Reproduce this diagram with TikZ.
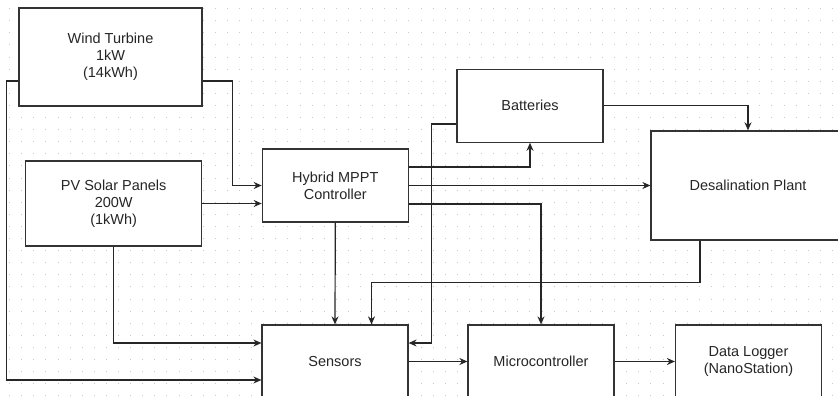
\documentclass[tikz,border=0pt]{standalone}
\usepackage{fontspec}
\setmainfont{Liberation Sans}
\usetikzlibrary{arrows.meta,calc,positioning}

\begin{document}
\begin{tikzpicture}[
    x=1pt, y=-1pt,
    font=\fontsize{14.5}{17}\selectfont,
    block/.style    = {draw=black!80, fill=white, line width=1.2pt, align=center,
                       inner sep=0pt, text=black!85},
    unit/.style     = {block, minimum width=146pt, minimum height=73pt},
    link/.style     = {-{Stealth[length=8pt,width=7pt]}, line width=1.2pt, black!85},
    griddots/.style = {draw=black!22, line width=1pt, dash pattern=on 1pt off 11.1pt}
  ]

% =========================================================
% Page frame and dotted grid
% =========================================================
\clip (0,0) rectangle (838,396);
\fill[white] (0,0) rectangle (838,396);
\foreach \gy in {0,...,32}
  \draw[griddots] (9.17,{8.67+12.1*\gy}) -- (838,{8.67+12.1*\gy});

% =========================================================
% Blocks
% =========================================================
\node[block, minimum width=183pt, minimum height=98pt] (wind) at (110.5,57)
  {Wind Turbine\\1kW\\(14kWh)};
\node[block, minimum width=176pt, minimum height=85pt] (pv) at (113.7,203.5)
  {PV Solar Panels\\200W\\(1kWh)};
\node[unit] (mppt) at (335.3,185.5) {Hybrid MPPT\\Controller};
\node[unit] (batt) at (530,105.7) {Batteries};
\node[block, minimum width=194pt, minimum height=109pt] (desal) at (748,185.4)
  {Desalination Plant};
\node[unit] (sens)   at (335,361.5)   {Sensors};
\node[unit] (mcu)    at (541,361.5)   {Microcontroller};
\node[unit] (logger) at (748.5,361.5) {Data Logger\\(NanoStation)};

% =========================================================
% Power paths
% =========================================================
\draw[link] ($(wind.west)+(0,24)$) -- ++(-12,0) |- ($(sens.west)+(0,18.5)$);
\draw[link] ($(wind.east)+(0,24)$) -- ++(30,0) |- (mppt.west);
\draw[link] (pv.east) -- (pv.east -| mppt.west);
\draw[link] (pv.south) |- ($(sens.west)+(0,-18.5)$);
\draw[link] ($(mppt.east)+(0,-18.5)$) -| (batt.south);
\draw[link] (mppt.east) -- (mppt.east -| desal.west);
\draw[link] ($(mppt.east)+(0,18.5)$) -| (mcu.north);
\draw[link] (batt.east) -| (desal.north);
\draw[link] ($(batt.west)+(0,18.3)$) -- ++(-25,0) |- ($(sens.east)+(0,-18.5)$);

% =========================================================
% Signal paths
% =========================================================
\draw[link] (mppt.south) -- (sens.north);
\draw[link] ($(desal.south)+(-48,0)$) -- ++(0,42) -| ($(sens.north)+(36.5,0)$);
\draw[link] (sens.east) -- (mcu.west);
\draw[link] (mcu.east) -- (logger.west);

\end{tikzpicture}
\end{document}
